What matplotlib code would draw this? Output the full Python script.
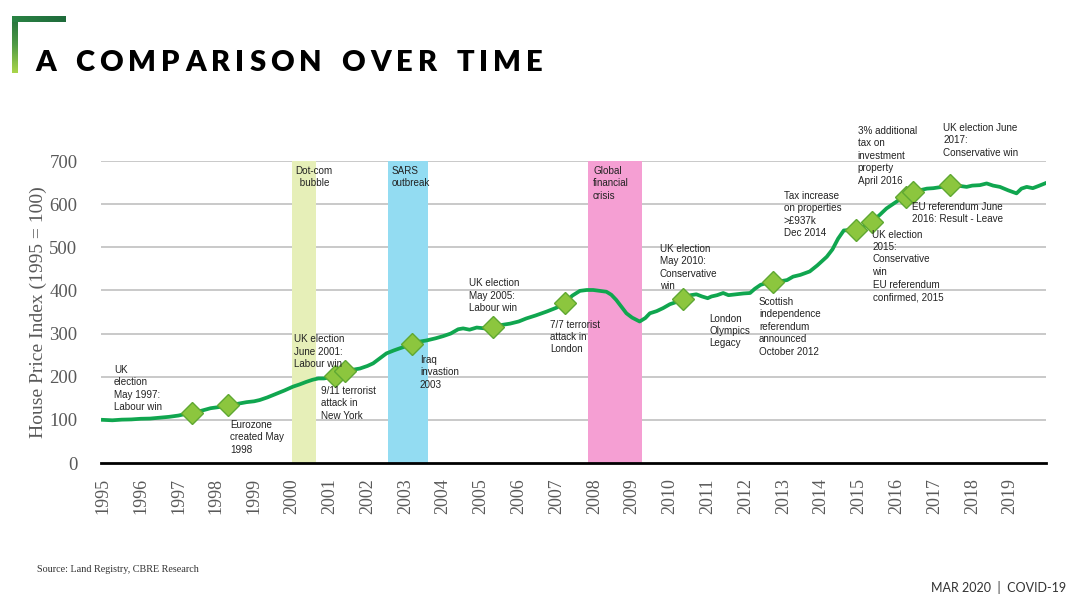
import matplotlib
matplotlib.use("Agg")
import matplotlib.pyplot as plt
import numpy as np

# ---------------- data ----------------
years = [1995.0, 1995.25, 1995.5, 1995.75, 1996.0, 1996.25, 1996.5, 1996.75, 1997.0, 1997.35,
         1997.6, 1997.85, 1998.1, 1998.32, 1998.55, 1998.8, 1999.0, 1999.15, 1999.35, 1999.6,
         1999.8, 2000.03, 2000.2, 2000.38, 2000.55, 2000.7, 2000.85, 2001.0, 2001.15, 2001.4,
         2001.6, 2001.8, 2002.0, 2002.15, 2002.35, 2002.5, 2002.7, 2002.86, 2003.0, 2003.17,
         2003.35, 2003.56, 2003.8, 2004.0, 2004.2, 2004.4, 2004.53, 2004.7, 2004.89, 2005.1,
         2005.33, 2005.55, 2005.77, 2006.0, 2006.2, 2006.45, 2006.74, 2007.0, 2007.22, 2007.42,
         2007.62, 2007.8, 2007.97, 2008.15, 2008.32, 2008.45, 2008.58, 2008.72, 2008.85, 2009.0,
         2009.2, 2009.35, 2009.47, 2009.65, 2009.82, 2010.0, 2010.2, 2010.35, 2010.55, 2010.7,
         2010.85, 2011.0, 2011.1, 2011.25, 2011.41, 2011.55, 2011.76, 2011.95, 2012.12, 2012.25,
         2012.4, 2012.55, 2012.73, 2012.9, 2013.1, 2013.26, 2013.45, 2013.7, 2013.9, 2014.15,
         2014.3, 2014.45, 2014.6, 2014.75, 2014.92, 2015.1, 2015.34, 2015.55, 2015.73, 2015.9,
         2016.1, 2016.24, 2016.42, 2016.6, 2016.8, 2016.97, 2017.2, 2017.41, 2017.6, 2017.85,
         2018.0, 2018.2, 2018.38, 2018.55, 2018.73, 2018.95, 2019.17, 2019.3, 2019.44, 2019.6,
         2019.75, 2019.92]
index = [100, 99, 100.5, 101, 102.5, 103, 105, 107, 110, 117,
         121, 127, 130, 134.5, 137, 141, 143, 146, 152, 161,
         168, 177, 182, 188, 193, 196, 196, 198.5, 201, 214,
         216, 219, 225, 231, 244, 254, 261, 266, 270, 275,
         281, 284, 289, 294, 300, 310, 312, 309, 314, 312,
         316, 320, 323, 328, 335, 342, 351, 360, 372, 388,
         399, 401, 401, 399, 397, 390, 378, 362, 347, 337,
         328, 336, 347, 352, 359, 368, 374, 380, 389, 391,
         386, 382, 386, 389, 394, 389, 391, 393, 394, 404,
         413, 417, 420, 421, 424, 432, 436, 444, 458, 478,
         495, 520, 539, 540, 540, 547, 559, 575, 590, 600,
         612, 617, 629, 632, 636, 637, 640, 645, 643, 640,
         643, 644, 648, 643, 640, 632, 625, 636, 640, 637,
         642, 648]

event_years = [1997.35, 1998.32, 2001.15, 2001.4, 2003.17, 2005.33, 2007.22, 2010.35,
               2012.73, 2014.92, 2015.34, 2016.24, 2016.42, 2017.41]
event_values = [117, 134.5, 201, 214, 275, 316, 372, 380, 420, 540, 559, 617, 629, 645]

band_names = ["Dot-com\n bubble", "SARS\noutbreak", "Global\nfinancial\ncrisis"]
band_start = [2000.0, 2002.54, 2007.83]
band_end = [2000.63, 2003.6, 2009.26]
band_colors = ["#e6efb8", "#93dcf2", "#f59fd3"]

tick_years = list(range(1995, 2020))
y_ticks = [0, 100, 200, 300, 400, 500, 600, 700]

annotations = [
    ("UK\nelection\nMay 1997:\nLabour win", 114, 367),
    ("Eurozone\ncreated May\n1998", 230, 422),
    ("UK election\nJune 2001:\nLabour win", 293.5, 336.5),
    ("9/11 terrorist\nattack in\nNew York", 321, 388),
    ("Iraq\ninvastion\n2003", 420, 357),
    ("UK election\nMay 2005:\nLabour win", 469, 280.5),
    ("7/7 terrorist\nattack in\nLondon", 550.5, 321.5),
    ("UK election\nMay 2010:\nConservative\nwin", 660, 246),
    ("London\nOlympics\nLegacy", 709, 315.5),
    ("Scottish\nindependence\nreferendum\nannounced\nOctober 2012", 759, 299),
    ("Tax increase\non properties\n>£937k\nDec 2014", 784, 193),
    ("3% additional\ntax on\ninvestment\nproperty\nApril 2016", 857.5, 128),
    ("UK election June\n2017:\nConservative win", 943, 125),
    ("EU referendum June\n2016: Result - Leave", 911.5, 204),
    ("UK election\n2015:\nConservative\nwin", 872.5, 231.5),
    ("EU referendum\nconfirmed, 2015", 873, 282.5),
]
band_label_pos = [(313.5, 168, "center"), (391.5, 168, "left"), (593, 168, "left")]

# ---------------- figure ----------------
W, H = 1080, 597
fig = plt.figure(figsize=(W / 100, H / 100), dpi=100)
fig.patch.set_facecolor("white")

def px(x, y):
    return x / W, 1 - y / H

ax = fig.add_axes([101 / W, 1 - 463 / H, (1046 - 101) / W, (463 - 161) / H])
ax.set_xlim(1994.95, 2019.95)
ax.set_ylim(0, 700)

for s, e, c in zip(band_start, band_end, band_colors):
    ax.axvspan(s, e, color=c, lw=0, zorder=1)

for yv in y_ticks[1:]:
    ax.axhline(yv, color="#c0c0c0", lw=1.2, zorder=0.5)

ax.plot(years, index, color="#10a64f", lw=2.7, zorder=3, solid_joinstyle="round")
ax.plot(event_years, event_values, ls="none", marker="D", ms=11,
        mfc="#8cc63e", mec="#5fa832", mew=1.0, zorder=4)

for sp in ["left", "right", "top"]:
    ax.spines[sp].set_visible(False)
ax.spines["bottom"].set_color("black")
ax.spines["bottom"].set_linewidth(2)
ax.spines["bottom"].set_zorder(5)

ax.set_yticks(y_ticks)
ax.set_yticklabels([str(v) for v in y_ticks], family="Liberation Serif", fontsize=13.5, color="#595959")
ax.set_xticks(tick_years)
ax.set_xticklabels([str(v) for v in tick_years], rotation=90, family="Liberation Serif",
                   fontsize=13, color="#595959")
ax.tick_params(axis="y", length=0, pad=17)
ax.tick_params(axis="x", length=0, pad=11)

fig.text(*px(38, 312), "House Price Index (1995 = 100)", rotation=90, ha="center", va="center",
         family="Liberation Serif", fontsize=14, color="#595959")

for txt, x, y in annotations:
    fig.text(*px(x, y - 2), txt, ha="left", va="top", family="Liberation Sans",
             fontsize=7.1, color="#222222", linespacing=1.3, zorder=6)
for (x, y, ha), name in zip(band_label_pos, band_names):
    fig.text(*px(x, y - 2), name, ha=ha, va="top", family="Liberation Sans",
             fontsize=7.1, color="#222222", linespacing=1.3,
             multialignment="center" if ha == "center" else "left", zorder=6)

# ---------------- title ----------------
title = "A COMPARISON OVER TIME"
renderer = fig.canvas.get_renderer()
tprops = dict(family="Lato", fontweight="heavy", fontsize=21, color="black")
widths = []
for ch in title:
    if ch == " ":
        t = fig.text(0, 0, "A", **tprops)
        w = t.get_window_extent(renderer).width * 0.45
    else:
        t = fig.text(0, 0, ch, **tprops)
        w = t.get_window_extent(renderer).width
    t.remove()
    widths.append(w)
x0, x1 = 35, 543
track = (x1 - x0 - sum(widths)) / (len(title) - 1)
xc = x0
for ch, w in zip(title, widths):
    if ch != " ":
        fig.text(*px(xc, 71), ch, ha="left", va="baseline", **tprops)
    xc += w + track

# corner bracket with gradient (decorative)
vax = fig.add_axes([12 / W, 1 - 73 / H, 6 / W, 57 / H])
vgrad = np.linspace(0, 1, 64).reshape(-1, 1)
vax.imshow(vgrad, aspect="auto", extent=(0, 1, 1, 0),
           cmap=matplotlib.colors.LinearSegmentedColormap.from_list("v", ["#226f3d", "#4f9a45", "#a9d54a"]))
vax.axis("off")
hax = fig.add_axes([12 / W, 1 - 22 / H, 54 / W, 6 / H])
hgrad = np.linspace(0, 1, 64).reshape(1, -1)
hax.imshow(hgrad, aspect="auto",
           cmap=matplotlib.colors.LinearSegmentedColormap.from_list("h", ["#2a8344", "#1f6b3b"]))
hax.axis("off")

# ---------------- footer ----------------
fig.text(*px(37, 572), "Source: Land Registry, CBRE Research", ha="left", va="baseline",
         family="Liberation Serif", fontsize=7.3, color="#333333")
fig.text(*px(1066, 592), "MAR 2020  |  COVID-19", ha="right", va="baseline",
         family="Lato", fontsize=9, color="#333333")

fig.savefig("out.png", dpi=100, facecolor="white")
